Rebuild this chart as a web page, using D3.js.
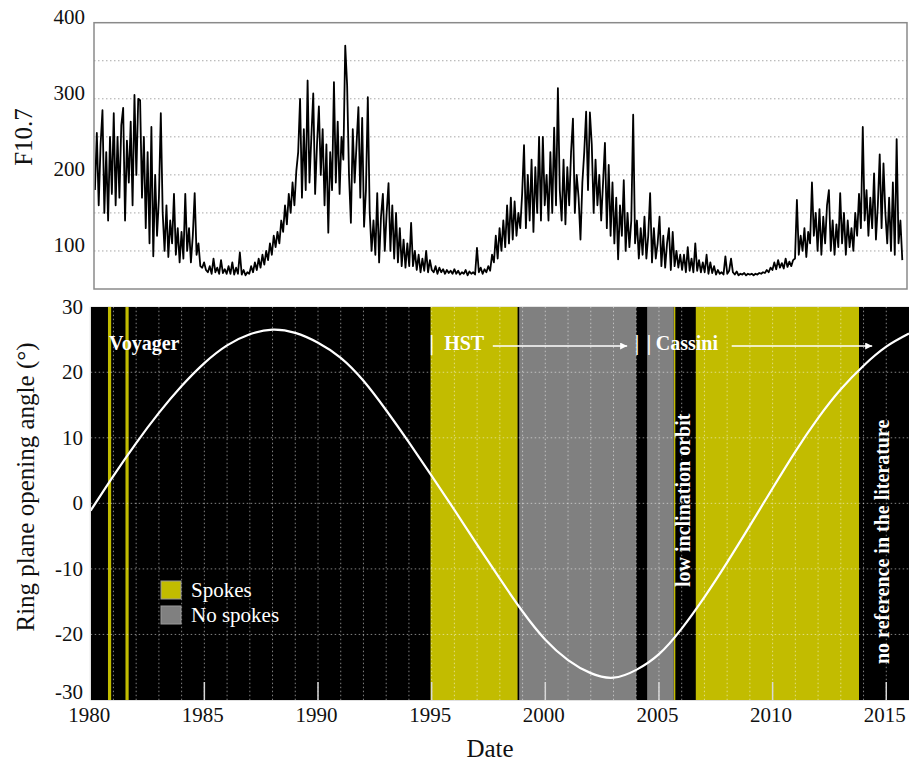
<!DOCTYPE html>
<html><head><meta charset="utf-8">
<script src="https://cdn.jsdelivr.net/npm/d3@7"></script>
<style>body{margin:0;background:#fff}svg{display:block}</style>
</head><body>
<svg id="chart" width="909" height="762"></svg>
<script>
// ---------- DATA ----------
// F10.7 solar flux, monthly samples starting Jan 1980
const f107StartYear = 1980;
const f107 = [
 180,255,160,240,285,150,230,140,250,175,281,160,
 250,170,265,288,140,245,190,270,160,305,200,300,
 298,170,250,130,230,110,263,93,200,120,170,281,
 150,100,160,92,140,110,175,95,130,85,125,90,
 175,100,130,85,120,176,95,110,80,78,85,75,
 72,80,70,90,72,78,70,88,71,76,70,80,
 70,85,69,78,70,98,69,75,68,72,70,80,
 72,85,75,90,78,95,82,100,88,110,95,120,
 105,125,110,140,125,160,135,175,150,190,160,205,
 230,300,170,260,180,324,190,250,307,175,240,290,
 200,260,160,240,124,230,180,322,190,270,175,250,
 220,370,318,200,137,260,190,240,289,170,275,132,
 180,302,150,100,140,95,176,85,145,175,100,150,
 189,100,160,90,150,85,130,80,115,78,110,80,
 137,80,100,75,95,72,90,74,100,72,88,75,
 72,80,70,78,72,76,70,75,71,74,70,76,
 70,74,69,72,70,75,68,73,70,72,69,104,
 72,78,70,76,72,80,74,95,85,120,90,130,
 100,140,105,160,110,170,115,165,120,150,130,175,
 239,130,200,140,220,125,210,150,250,140,250,160,
 200,140,230,150,262,160,314,180,140,220,135,210,
 160,230,274,150,200,170,115,190,230,283,180,282,
 240,150,220,160,200,140,190,242,130,213,120,190,
 110,170,89,160,120,193,100,150,105,140,279,110,
 140,90,130,95,145,90,120,176,85,130,90,110,
 145,80,120,78,110,130,75,125,80,100,78,95,
 75,95,72,105,74,90,72,110,74,88,72,85,
 72,95,70,85,71,80,69,75,70,72,69,93,
 70,74,90,72,69,73,68,70,69,71,68,70,
 69,70,68,70,69,71,70,72,71,75,72,78,
 75,85,76,88,78,84,77,90,79,86,80,88,
 90,167,95,120,100,130,92,125,110,190,120,150,
 100,155,95,145,110,160,180,100,140,95,135,105,
 176,110,150,95,140,105,130,100,150,120,175,130,
 263,140,180,120,170,130,202,115,160,227,130,215,
 150,110,170,100,190,95,247,110,140,88
];

// Ring plane opening angle (deg), yearly
const angleYears = [1980,1981,1982,1983,1984,1985,1986,1987,1988,1989,1990,1991,1992,1993,1994,1995,1996,1997,1998,1999,2000,2001,2002,2003,2004,2005,2006,2007,2008,2009,2010,2011,2012,2013,2014,2015,2016];
const angleValues = [-1.1,4.2,9.2,13.8,17.9,21.4,24.1,25.8,26.5,26.0,24.5,22.2,18.7,14.2,9.3,4.2,-1.0,-6.3,-11.5,-16.5,-20.8,-23.9,-25.9,-26.6,-25.4,-23.0,-19.1,-14.3,-9.0,-3.4,2.3,7.9,13.0,17.4,21.0,23.9,25.9];

// Observation spans (years)
const spokesSpans = [[1980.76,1980.90],[1981.53,1981.67],[1994.95,1998.78],[2005.65,2005.72],[2006.62,2013.80]];
const noSpokesSpans = [[1998.85,2004.00],[2004.48,2005.65]];

const topTickValues = [100,200,300,400];
const topGridValues = [100,150,200,250,300,350];
const bottomTickValues = [-30,-20,-10,0,10,20,30];
const xTickYears = [1980,1985,1990,1995,2000,2005,2010,2015];
const yearGrid = [1981,1982,1983,1984,1985,1986,1987,1988,1989,1990,1991,1992,1993,1994,1995,1996,1997,1998,1999,2000,2001,2002,2003,2004,2005,2006,2007,2008,2009,2010,2011,2012,2013,2014,2015];

const legendItems = ["Spokes","No spokes"];

// ---------- STYLE ----------
const YELLOW = "#c2bc00", GRAY = "#808080";
const FONT = "'Liberation Serif','Times New Roman',serif";

const svg = d3.select("#chart");

// ---------- TOP PANEL ----------
const T = {l:94, r:907, t:22.7, b:289};
const xTop = d3.scaleLinear().domain([1980,2016]).range([T.l,T.r]);
const yTop = d3.scaleLinear().domain([50,400]).range([T.b,T.t]);

svg.append("g").selectAll("line").data(topGridValues).join("line")
  .attr("x1",T.l).attr("x2",T.r)
  .attr("y1",d=>yTop(d)).attr("y2",d=>yTop(d))
  .attr("stroke","#a8a8a8").attr("stroke-width",1).attr("stroke-dasharray","1.5,2.5");

const f107Line = d3.line()
  .x((d,i)=>xTop(f107StartYear + i/12 + 1/24))
  .y(d=>yTop(d));
svg.append("path").datum(f107)
  .attr("d",f107Line).attr("fill","none")
  .attr("stroke","#000").attr("stroke-width",1.8).attr("stroke-linejoin","round");

svg.append("rect").attr("x",T.l).attr("y",T.t).attr("width",T.r-T.l).attr("height",T.b-T.t)
  .attr("fill","none").attr("stroke","#8a8a8a").attr("stroke-width",1.5);

svg.append("g").selectAll("text").data(topTickValues).join("text")
  .attr("x",85).attr("y",d=>yTop(d)+1)
  .attr("text-anchor","end").attr("font-family",FONT).attr("font-size",21).attr("fill","#111")
  .text(d=>d);

svg.append("text")
  .attr("transform",`translate(32,137) rotate(-90)`)
  .attr("text-anchor","middle").attr("font-family",FONT).attr("font-size",25).attr("fill","#111")
  .text("F10.7");

// ---------- BOTTOM PANEL ----------
const B = {l:90.7, r:909, t:306.7, b:700};
const x = d3.scaleLinear().domain([1980,2016]).range([B.l,B.r]);
const y = d3.scaleLinear().domain([-30,30]).range([B.b,B.t]);

svg.append("defs").append("clipPath").attr("id","clipB")
  .append("rect").attr("x",B.l).attr("y",B.t).attr("width",B.r-B.l).attr("height",B.b-B.t);
svg.select("defs").append("marker").attr("id","arrow")
  .attr("viewBox","0 0 10 10").attr("refX",10).attr("refY",5)
  .attr("markerWidth",8).attr("markerHeight",7).attr("markerUnits","userSpaceOnUse")
  .attr("orient","auto")
  .append("path").attr("d","M0,0 L10,5 L0,10 Z").attr("fill","#fff");

const gB = svg.append("g").attr("clip-path","url(#clipB)");
gB.append("rect").attr("x",x(1980)).attr("y",B.t).attr("width",x(2016)-x(1980)).attr("height",B.b-B.t).attr("fill","#000");

gB.selectAll("rect.sp").data(spokesSpans).join("rect").attr("class","sp")
  .attr("x",d=>x(d[0])).attr("width",d=>x(d[1])-x(d[0]))
  .attr("y",B.t).attr("height",B.b-B.t).attr("fill",YELLOW);
gB.selectAll("rect.ns").data(noSpokesSpans).join("rect").attr("class","ns")
  .attr("x",d=>x(d[0])).attr("width",d=>x(d[1])-x(d[0]))
  .attr("y",B.t).attr("height",B.b-B.t).attr("fill",GRAY);

// grid
gB.selectAll("line.vg").data(yearGrid).join("line").attr("class","vg")
  .attr("x1",d=>x(d)).attr("x2",d=>x(d)).attr("y1",B.t).attr("y2",B.b)
  .attr("stroke","#fff").attr("stroke-opacity",0.5).attr("stroke-width",1).attr("stroke-dasharray","1.5,2.5");
gB.selectAll("line.hg").data(bottomTickValues.filter(v=>v>-30&&v<30)).join("line").attr("class","hg")
  .attr("x1",B.l).attr("x2",B.r).attr("y1",d=>y(d)).attr("y2",d=>y(d))
  .attr("stroke","#fff").attr("stroke-opacity",0.5).attr("stroke-width",1).attr("stroke-dasharray","1.5,2.5");
// ticks inside bottom
gB.selectAll("line.tk").data(xTickYears.filter(d=>d>1980)).join("line").attr("class","tk")
  .attr("x1",d=>x(d)).attr("x2",d=>x(d)).attr("y1",B.b-18).attr("y2",B.b)
  .attr("stroke","#d8d8d8").attr("stroke-width",1.5);

// curve
const angleLine = d3.line().x((d,i)=>x(angleYears[i])).y(d=>y(d)).curve(d3.curveNatural);
gB.append("path").datum(angleValues).attr("d",angleLine)
  .attr("fill","none").attr("stroke","#fff").attr("stroke-width",2.2);

// axis lines
svg.append("line").attr("x1",B.l).attr("x2",B.r).attr("y1",B.b+0.5).attr("y2",B.b+0.5).attr("stroke","#e0e0e0").attr("stroke-width",1);
svg.append("line").attr("x1",B.l-0.5).attr("x2",B.l-0.5).attr("y1",B.t).attr("y2",B.b).attr("stroke","#e0e0e0").attr("stroke-width",1);

// annotations
const bold = sel => sel.attr("font-family",FONT).attr("font-weight","bold").attr("font-size",20).attr("fill","#fff");
bold(gB.append("text").attr("x",x(1980.81)).attr("y",350).text("Voyager"));
bold(gB.append("text").attr("x",x(1994.9)).attr("y",350).text("|"));
bold(gB.append("text").attr("x",x(1995.55)).attr("y",350).text("HST"));
gB.append("line").attr("x1",x(1997.69)).attr("x2",x(2003.6)).attr("y1",346).attr("y2",346)
  .attr("stroke","#fff").attr("stroke-width",1.5).attr("marker-end","url(#arrow)");
bold(gB.append("text").attr("x",x(2003.93)).attr("y",350).text("|"));
bold(gB.append("text").attr("x",x(2004.46)).attr("y",350).text("|"));
bold(gB.append("text").attr("x",x(2004.86)).attr("y",350).text("Cassini"));
gB.append("line").attr("x1",x(2008.2)).attr("x2",x(2014.38)).attr("y1",346).attr("y2",346)
  .attr("stroke","#fff").attr("stroke-width",1.5).attr("marker-end","url(#arrow)");
bold(gB.append("text").attr("transform",`translate(${x(2006.35)},587) rotate(-90)`).text("low inclination orbit"));
bold(gB.append("text").attr("transform",`translate(${x(2015.1)},664) rotate(-90)`).text("no reference in the literature"));

// legend
const lg = svg.append("g");
lg.selectAll("rect").data(legendItems).join("rect")
  .attr("x",161).attr("y",(d,i)=>581+i*25).attr("width",20).attr("height",18)
  .attr("fill",(d,i)=>i===0?YELLOW:GRAY).attr("stroke","#9a9a9a").attr("stroke-width",1);
lg.selectAll("text").data(legendItems).join("text")
  .attr("x",191).attr("y",(d,i)=>597+i*25)
  .attr("font-family",FONT).attr("font-size",21).attr("fill","#fff").text(d=>d);

// y tick labels
svg.append("g").selectAll("text").data(bottomTickValues).join("text")
  .attr("x",83).attr("y",d=>d===-30?699:y(d)+7)
  .attr("text-anchor","end").attr("font-family",FONT).attr("font-size",21).attr("fill","#111")
  .text(d=>d);
// x tick labels
svg.append("g").selectAll("text").data(xTickYears).join("text")
  .attr("x",d=>x(d)-1.5).attr("y",722)
  .attr("text-anchor","middle").attr("font-family",FONT).attr("font-size",21).attr("fill","#111")
  .text(d=>d);

svg.append("text").attr("x",490).attr("y",757).attr("text-anchor","middle")
  .attr("font-family",FONT).attr("font-size",25).attr("fill","#111").text("Date");
svg.append("text")
  .attr("transform",`translate(34,487) rotate(-90)`)
  .attr("text-anchor","middle").attr("font-family",FONT).attr("font-size",25).attr("fill","#111")
  .text("Ring plane opening angle (°)");
</script>
</body></html>
